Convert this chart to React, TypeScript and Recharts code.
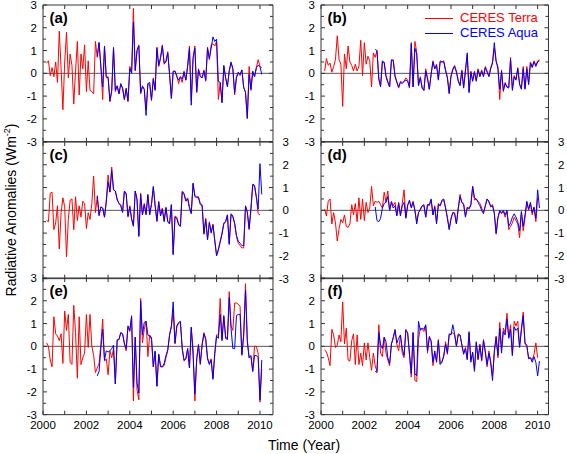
import { LineChart, Line, XAxis, YAxis, ReferenceLine } from 'recharts'

// monthly anomalies, Terra from Mar 2000, Aqua from Jul 2002 (index 28)
const TERRA_A = [
  0.45, 0.55, -0.1, 0.25, -0.15, 0.5, -0.4, 1.85, 0.2, -1.6,
  0.5, 1.8, -0.2, 0.85, 0.35, -1.35, 0.1, 1.4, -0.95, 0.85,
  0.2, 1.25, -0.8, 0.55, -0.75, -0.8, -0.9, 1.4, 0.7, 1.35,
  0.3, -1.15, 1.15, -0.2, -0.15, -1.25, -0.8, 1.15, -0.8, -0.55,
  -0.9, -0.5, -0.65, -1.15, -0.7, -1.25, 0.3, 0.05, 2.85, 0.1,
  1.0, 1.25, -0.9, -0.6, -0.7, -1.6, -0.45, -0.5, -1.2, -0.2,
  -0.7, 1.15, 0.3, 0.65, 1.25, 0.4, 0.55, 0.95, -0.05, -1.1,
  0.05, 0.1, -0.1, -0.45, -0.15, -0.4, 0.1, -0.3, 0.35, 1.2,
  -1.2, 0.7, 1.2, -0.85, 0.2, -0.1, -0.2, 0.15, -0.35, 1.15,
  0.6, 1.25, 1.3, 1.2, 1.4, -1.15, -0.4, -1.25, 0.3, -0.2,
  -0.55, 0.1, 0.45, 0.2, -0.95, -0.2, 0.0, -0.1, 0.15, -0.65,
  -0.8, -2.0, 0.3, -0.75, 0.05, -0.15, 0.25, 0.6, 0.3, 0.25,
]
const AQUA_A = [
  0.75, 1.35,
  0.3, -0.6, 1.2, -0.15, -0.2, -1.2, -0.75, 1.1, -0.75, -0.55,
  -0.9, -0.45, -0.65, -1.15, -0.65, -1.2, 0.2, 0.0, 2.25, 0.15,
  1.0, 1.2, -0.85, -0.55, -0.7, -1.85, -0.45, -0.4, -1.15, -0.25,
  -0.75, 1.1, 0.35, 0.7, 1.2, 0.45, 0.5, 0.9, -0.05, -1.1,
  0.1, 0.1, -0.15, -0.3, -0.15, -0.25, 0.05, -0.3, 0.3, 1.1,
  -1.4, 0.65, 1.1, -0.8, 0.15, -0.15, -0.2, 0.1, -0.3, 1.1,
  0.65, 1.1, 1.6, 1.4, 1.5, -0.35, -0.4, -1.3, 0.35, -0.2,
  -0.6, 0.1, 0.5, 0.2, -0.85, -0.15, 0.05, -0.05, 0.15, -0.6,
  -0.85, -1.95, -0.05, -0.7, 0.1, -0.15, 0.25, 0.35, 0.3, -0.05,
]
const TERRA_B = [
  0.1, 0.65, 0.35, 0.45, 0.05, 0.3, 0.6, 1.65, 0.6, 0.4,
  -1.45, 0.85, 0.2, 1.2, 0.5, 0.35, 0.1, 0.4, 0.1, 0.3,
  1.45, -0.1, 1.35, 0.4, 0.75, 0.55, -0.6, 0.9, 0.7, 1.0,
  -0.2, -0.55, 0.5, 0.5, -0.1, -0.35, -0.6, 0.55, 0.6, -0.1,
  -0.35, -0.65, -0.35, -0.4, -0.35, -0.2, -0.3, -0.65, 1.35, -0.6,
  1.4, 0.95, -0.5, -0.15, -0.6, -0.75, 0.2, -0.2, -0.7, 0.0,
  0.55, 0.2, 0.4, -0.25, 0.55, 0.5, 0.55, 0.15, -0.15, -0.85,
  -0.1, 0.2, 0.35, 0.1, -0.3, -0.5, 0.15, -0.6, 0.15, 0.8,
  -0.8, 0.1, -0.3, 0.1, -0.3, 0.2, -0.1, 0.15, -0.1, 0.3,
  0.1, -0.1, 0.25, 0.5, 1.1, 0.5, 0.3, -1.15, 0.15, -0.8,
  -0.4, -0.6, -0.6, 0.7, -0.7, -0.1, -0.25, 0.25, -0.45, -0.65,
  0.3, -0.65, 0.3, -0.45, 0.5, 0.3, 0.55, 0.35, 0.55, 0.6,
]
const AQUA_B = [
  1.05, 1.0,
  -0.25, -0.6, 0.55, 0.45, -0.15, -0.4, -0.6, 0.6, 0.55, -0.15,
  -0.4, -0.6, -0.4, -0.45, -0.35, -0.3, -0.35, -0.6, 1.3, -0.6,
  1.1, 0.85, -0.55, -0.2, -0.65, -0.75, 0.1, -0.25, -0.7, -0.05,
  0.5, 0.2, 0.35, -0.3, 0.5, 0.5, 0.5, 0.1, -0.2, -0.9,
  -0.15, 0.15, 0.3, 0.05, -0.35, -0.55, 0.1, -0.65, 0.1, 0.9,
  -0.85, 0.05, -0.35, 0.05, -0.35, 0.15, -0.15, 0.1, -0.15, 0.25,
  0.05, -0.15, 0.2, 0.45, 1.35, 0.55, 0.2, -0.7, 0.1, -0.75,
  -0.45, -0.6, -0.65, 0.6, -0.75, -0.15, -0.3, 0.2, -0.5, -0.7,
  0.2, -0.7, 0.2, -0.5, 0.45, 0.25, 0.5, 0.3, 0.5, 0.55,
]
const TERRA_C = [
  -0.45, -0.5, 0.75, 0.8, -0.85, -0.55, 0.2, -1.7, -0.1, 0.55,
  0.15, -2.05, -0.4, 0.45, 0.5, -0.85, 0.6, -0.45, 0.2, -0.3,
  0.4, 0.3, -0.8, -0.1, -0.4, 0.3, 1.5, -0.1, 0.6, -0.25,
  0.15, 0.1, -0.3, 0.45, 1.55, 0.8, 1.9, 0.9, 0.85, 0.45,
  0.3, 0.25, -0.05, 0.8, 0.7, -0.3, 0.2, -0.35, -0.65, 0.85,
  0.45, -1.1, 0.75, -0.2, 0.3, -0.15, 0.65, -0.15, 0.3, 1.0,
  0.2, -0.5, 0.4, -0.2, 0.1, -0.45, 0.15, -0.5, -0.55, 0.25,
  -1.9, -0.25, -0.3, -0.6, -0.7, 0.85, 0.75, 0.45, 0.55, 0.15,
  -0.1, 1.15, 0.65, 0.6, 0.6, 0.3, 0.25, -1.0, -0.35, -1.25,
  -0.5, -0.95, -0.6, -1.3, -1.95, -1.7, -1.35, -1.0, -0.55, -0.5,
  -0.2, -1.45, -0.2, -0.3, -0.6, -1.15, -1.45, -1.55, -1.65, -1.65,
  0.15, -0.1, -0.85, 0.0, 1.1, 1.05, 0.55, -0.15, -0.2,
]
const AQUA_C = [
  0.65, -0.2,
  0.15, 0.1, -0.3, 0.35, 1.25, 0.8, 1.75, 0.9, 0.85, 0.5,
  0.3, 0.2, -0.1, 0.85, 0.75, -0.25, 0.15, -0.4, -0.7, 0.85,
  0.5, -1.15, 0.7, -0.2, 0.25, -0.2, 0.7, -0.2, 0.25, 1.05,
  0.25, -0.45, 0.35, -0.25, 0.05, -0.5, 0.1, -0.5, -0.6, 0.25,
  -1.95, -0.3, -0.35, -0.65, -0.7, 0.8, 0.7, 0.4, 0.5, 0.1,
  -0.15, 1.2, 0.6, 0.55, 0.55, 0.25, 0.2, -1.05, -0.4, -1.3,
  -0.55, -1.0, -0.65, -1.35, -2.0, -1.75, -1.4, -1.05, -0.6, -0.5,
  -0.2, -1.5, -0.15, -0.25, -0.55, -1.1, -1.35, -1.45, -1.55, -1.55,
  0.2, -0.05, -0.8, 0.1, 1.15, 1.1, 0.6, 0.05, 2.05, 0.7,
]
const TERRA_D = [
  0.05, -0.25, 0.4, 0.5, -0.6, -0.1, -0.55, -1.35, -0.8, -0.4,
  -0.55, -0.2, -0.7, -0.75, -0.6, 0.25, -0.2, 0.3, -0.5, 0.55,
  -0.4, 0.5, -0.45, 0.35, -0.1, 0.1, 1.05, 0.2, 0.4, 0.35,
  0.4, 0.25, 0.1, 0.8, 0.35, 0.85, 0.0, 0.4, 0.2, 0.35,
  -0.2, 0.35, -0.2, 0.3, 0.9, -0.3, 0.25, 0.4, 0.15, 0.4,
  0.0, -0.5, -0.1, 0.0, 0.2, 0.2, -0.3, 0.25, 0.2, 0.45,
  -0.2, 0.2, -0.55, 0.3, 0.2, 0.4, 0.45, 0.1, -0.3, -0.8,
  -0.35, -0.1, -0.1, -0.6, 0.1, 0.7, 0.35, 0.3, -0.25, 0.15,
  0.05, 0.2, 1.05, 0.45, 0.5, 0.4, 0.3, 0.1, -0.1, 0.2,
  0.5, 0.35, 0.2, 0.25, -0.1, -1.05, -0.35, -0.05, -0.15, -0.05,
  -0.3, -0.05, -0.85, -0.7, -0.55, -0.3, -0.45, -0.6, -1.2, -0.1,
  -0.9, -0.35, 0.35, 0.0, 0.3, -0.2, 0.1, -0.5, 0.55,
]
const AQUA_D = [
  0.15, -0.45,
  -0.5, -0.35, 0.1, 0.3, 0.35, 0.6, 0.0, 0.35, 0.1, 0.2,
  -0.25, 0.3, -0.25, 0.2, 0.35, -0.35, 0.2, 0.45, 0.1, 0.35,
  0.0, -0.6, -0.1, 0.05, 0.2, 0.25, -0.3, 0.25, 0.25, 0.5,
  -0.2, 0.15, -0.6, 0.25, 0.2, 0.45, 0.5, 0.1, -0.35, -0.85,
  -0.4, -0.1, -0.15, -0.6, 0.05, 0.6, 0.35, 0.25, -0.3, 0.1,
  0.1, 0.25, 1.05, 0.55, 0.5, 0.35, 0.2, 0.0, -0.15, 0.2,
  0.5, 0.4, 0.15, 0.2, -0.15, -1.0, -0.3, 0.0, -0.1, 0.0,
  -0.2, 0.0, -0.7, -0.55, -0.3, -0.15, -0.3, -0.5, -0.9, -0.05,
  -0.7, -0.2, 0.4, 0.05, 0.35, -0.1, 0.15, -0.35, 0.9, 0.1,
]
const TERRA_E = [
  0.15, 0.0, -0.6, -0.9, 1.3, 0.55, 0.45, 0.25, 0.55, -0.75,
  1.55, 0.7, 1.4, -0.7, -0.8, 1.8, 0.6, -1.4, 1.3, -0.8,
  -0.5, -0.3, 1.4, -0.05, 1.4, 0.0, -0.4, -1.15, -0.95, -0.75,
  0.1, 1.2, -0.65, -0.55, -1.25, -0.2, -0.5, -0.1, -1.65, 0.3,
  0.3, 0.6, 0.55, 0.1, -0.2, 0.85, 0.65, 1.35, -2.4, 0.4,
  -1.9, -2.35, 2.1, 0.15, 0.75, 1.1, -0.45, 0.5, 0.3, -0.9,
  -0.25, -1.75, -0.35, -0.85, -0.9, -0.85, -0.5, -0.2, 0.5, 0.85,
  1.55, 0.1, 0.85, 1.0, 1.05, -0.1, -0.65, -0.55, -0.1, -0.95,
  0.8, -0.1, -2.4, -0.5, 0.1, -0.8, 0.1, 0.6, 0.35, -0.5,
  -0.75, -0.55, -1.4, -0.35, 0.5, 0.5, 2.1, 0.3, 1.3, 0.45,
  0.3, 2.4, 0.9, 0.7, 1.9, 1.9, 1.85, 1.75, -0.4, 0.55,
  2.75, 0.3, -0.5, -0.45, -1.1, 0.0, 0.0, -0.3, -2.45, -1.0,
]
const AQUA_E = [
  -1.3, -1.1,
  -0.1, 0.75, -0.6, -0.2, -0.25, -0.2, -0.1, 0.05, -1.65, 0.25,
  0.3, 0.6, 0.55, 0.15, -0.1, 0.9, 0.7, 1.3, -1.8, 0.4,
  -1.6, -2.05, 2.0, 0.5, 1.05, 1.1, 0.5, 0.45, 0.4, -0.9,
  -0.2, -1.75, -0.35, -0.9, -0.9, -0.75, -0.4, -0.15, 0.5, 0.9,
  1.95, 0.15, 0.9, 1.05, 1.1, -0.1, -0.6, -0.55, -0.1, -0.95,
  0.85, -0.4, -2.1, -0.6, 0.05, -0.75, 0.05, 0.55, 0.3, -0.55,
  -0.8, -0.6, -1.45, -0.3, 0.45, 0.35, 1.4, 0.25, 1.35, 0.35,
  0.3, 2.15, 0.8, -0.1, -0.1, 1.35, 1.4, 1.4, -0.35, 0.45,
  2.45, 0.2, -0.5, -0.4, -1.1, -0.4, -0.4, -0.5, -2.35, -0.6,
]
const TERRA_F = [
  -0.15, -0.25, -0.5, -0.85, 0.75, 0.5, -0.05, 0.05, 0.5, 0.2,
  1.95, 0.1, 0.8, -0.6, -0.65, 0.25, 0.55, -0.8, 0.5, -0.8,
  -0.3, -0.85, 0.15, -0.6, 0.15, -0.5, -1.05, -0.3, -0.85, -1.1,
  0.95, -0.3, -0.45, 0.4, -0.3, -0.6, -0.85, 0.1, 0.35, 0.75,
  0.1, -0.2, 0.5, -0.3, -0.5, 0.75, 0.55, -0.4, -1.35, 0.6,
  -1.5, -1.55, 0.3, 0.8, 0.75, 0.65, 0.9, -0.3, 0.45, 0.2,
  -0.85, -0.3, -0.65, 0.3, -0.75, -0.65, -0.45, 0.2, -0.35, 0.5,
  0.55, 0.6, 0.5, 0.0, 0.55, 0.5, 0.1, -0.3, -0.05, -0.6,
  0.65, -0.6, -0.3, -1.0, 0.15, -0.6, 0.1, -0.65, 0.3, -0.3,
  -0.9, -0.2, -0.65, -1.3, -0.3, 0.45, -0.5, 1.05, -0.1, 0.8,
  0.6, 1.45, 0.4, 0.95, -0.4, 1.1, 0.9, 1.1, 0.0, 0.8,
  1.5, 0.1, 0.0, -0.5, -0.5, -0.6, -0.35, 0.15, -0.5,
]
const AQUA_F = [
  -1.1, -1.15,
  0.6, 0.05, -0.1, 0.4, 0.2, -0.5, -0.75, 0.1, 0.4, 0.7,
  0.15, 0.35, 0.5, -0.1, -0.4, 0.7, 0.6, -0.3, -1.2, 0.6,
  -1.2, -1.3, 1.1, 0.7, 0.8, 0.75, 0.95, -0.2, 0.4, 0.25,
  -0.7, -0.2, -0.7, 0.25, -0.8, -0.7, -0.4, 0.1, -0.3, 0.55,
  0.5, 0.95, 0.55, 0.0, 0.5, 0.5, 0.05, -0.35, -0.1, -0.55,
  0.6, -0.7, -0.25, -1.1, 0.2, -0.55, 0.05, -0.6, 0.25, -0.2,
  -0.8, -0.3, -0.75, -1.5, -0.2, 0.4, -0.4, 0.8, -0.3, 0.65,
  0.5, 1.2, 0.35, 0.75, -0.4, 0.85, 0.7, 0.8, -0.05, 0.7,
  1.35, 0.15, 0.05, -0.55, -0.5, -0.7, -0.45, -0.7, -1.3, -0.65,
]

const YEARS = [2000, 2001, 2002, 2003, 2004, 2005, 2006, 2007, 2008, 2009, 2010]
const Y_TICKS = [-3, -2.5, -2, -1.5, -1, -0.5, 0, 0.5, 1, 1.5, 2, 2.5, 3]

const T0 = 2000 + 2 / 12
const AQUA_START = 28
const FONT = '"Liberation Sans", Arial, sans-serif'
const AX = '#333'
const TERRA_COLOR = '#ff0000'
const AQUA_COLOR = '#0000ff'

const LEFT = { x: 42.5, w: 230, domain: [2000, 2010.6] }
const RIGHT = { x: 320.5, w: 227.5, domain: [2000, 2010.5] }
const ROW_TOPS = [5, 141.67, 278.33]
const PH = 136.67
const M = { top: 10, right: 40, bottom: 30, left: 40 }
const THIN = 0.01 // axes need a positive size to be drawn

const buildRows = (terra: number[], aqua: number[]) => {
  const n = Math.max(terra.length, AQUA_START + aqua.length)
  return Array.from({ length: n }, (_, i) => ({
    t: T0 + i / 12,
    terra: terra[i],
    aqua: i >= AQUA_START ? aqua[i - AQUA_START] : undefined,
  }))
}

const PANELS = [
  { key: 'a', col: LEFT, row: 0, terra: TERRA_A, aqua: AQUA_A, ySide: 'left', xLabels: false },
  { key: 'b', col: RIGHT, row: 0, terra: TERRA_B, aqua: AQUA_B, ySide: 'left', xLabels: false },
  { key: 'c', col: LEFT, row: 1, terra: TERRA_C, aqua: AQUA_C, ySide: 'right', xLabels: false },
  { key: 'd', col: RIGHT, row: 1, terra: TERRA_D, aqua: AQUA_D, ySide: 'right', xLabels: false },
  { key: 'e', col: LEFT, row: 2, terra: TERRA_E, aqua: AQUA_E, ySide: 'left', xLabels: true },
  { key: 'f', col: RIGHT, row: 2, terra: TERRA_F, aqua: AQUA_F, ySide: 'left', xLabels: true },
]

const XTick = ({ x, y, payload, dir, showLabel }: any) => {
  const v = payload.value
  return (
    <g>
      <line x1={x} x2={x} y1={y} y2={y + dir * 4} stroke={AX} strokeWidth={1} />
      {showLabel && v % 2 === 0 && (
        <text x={x} y={y + 14.5} textAnchor="middle" fontSize={11.5} fontFamily={FONT} fill="#000">{v}</text>
      )}
    </g>
  )
}

const YTick = ({ x, y, payload, dir, showLabel }: any) => {
  const v = payload.value
  const major = Number.isInteger(v)
  return (
    <g>
      <line x1={x} x2={x + dir * (major ? 4 : 3)} y1={y} y2={y} stroke={AX} strokeWidth={1} />
      {showLabel && major && (
        dir > 0
          ? <text x={x - 6} y={y + 4} textAnchor="end" fontSize={11.5} fontFamily={FONT} fill="#000">{v}</text>
          : <text x={x + 16} y={y + 4} textAnchor="end" fontSize={11.5} fontFamily={FONT} fill="#000">{v}</text>
      )}
    </g>
  )
}

function Panel({ p }: { p: any }) {
  const rows = buildRows(p.terra, p.aqua)
  const top = ROW_TOPS[p.row]
  return (
    <div style={{ position: 'absolute', left: p.col.x - M.left, top: top - M.top }}>
      <LineChart width={p.col.w + M.left + M.right} height={PH + M.top + M.bottom} data={rows} margin={M}>
        <XAxis dataKey="t" type="number" domain={p.col.domain} ticks={YEARS} interval={0}
          height={THIN} tickSize={0} tickMargin={0} tickLine={false} axisLine={{ stroke: AX }}
          tick={(t: any) => <XTick {...t} dir={-1} showLabel={p.xLabels} />} />
        <XAxis xAxisId="top" dataKey="t" orientation="top" type="number" domain={p.col.domain} ticks={YEARS} interval={0}
          height={THIN} tickSize={0} tickMargin={0} tickLine={false} axisLine={{ stroke: AX }}
          tick={(t: any) => <XTick {...t} dir={1} showLabel={false} />} />
        <YAxis type="number" domain={[-3, 3]} ticks={Y_TICKS} interval={0}
          width={THIN} tickSize={0} tickMargin={0} tickLine={false} axisLine={{ stroke: AX }}
          tick={(t: any) => <YTick {...t} dir={1} showLabel={p.ySide === 'left'} />} />
        <YAxis yAxisId="right" orientation="right" type="number" domain={[-3, 3]} ticks={Y_TICKS} interval={0}
          width={THIN} tickSize={0} tickMargin={0} tickLine={false} axisLine={{ stroke: AX }}
          tick={(t: any) => <YTick {...t} dir={-1} showLabel={p.ySide === 'right'} />} />
        <ReferenceLine y={0} stroke="#555" strokeWidth={1} />
        {/* invisible series so the top / right axes get their scales and ticks */}
        <Line xAxisId="top" yAxisId="right" dataKey="terra" stroke="none" dot={false} activeDot={false} isAnimationActive={false} />
        <Line dataKey="terra" type="linear" stroke={TERRA_COLOR} strokeWidth={1} dot={false} isAnimationActive={false} />
        <Line dataKey="aqua" type="linear" stroke={AQUA_COLOR} strokeWidth={1} dot={false} isAnimationActive={false} />
      </LineChart>
      <div style={{
        position: 'absolute', left: M.left + 7, top: M.top + 5, fontFamily: FONT,
        fontWeight: 'bold', fontSize: 15, lineHeight: '16px',
      }}>({p.key})</div>
    </div>
  )
}

export default function App() {
  return (
    <div style={{ position: 'absolute', left: 0, top: 0, width: 567, height: 454, background: '#fff', fontFamily: FONT }}>
      {PANELS.map(p => <Panel key={p.key} p={p} />)}

      {/* legend in panel (b) */}
      <div style={{ position: 'absolute', left: 425, top: 18, width: 28, height: 1, background: TERRA_COLOR }} />
      <div style={{ position: 'absolute', left: 460, top: 10, fontSize: 13, lineHeight: '16px', color: TERRA_COLOR, whiteSpace: 'nowrap' }}>CERES Terra</div>
      <div style={{ position: 'absolute', left: 425, top: 33, width: 28, height: 1, background: AQUA_COLOR }} />
      <div style={{ position: 'absolute', left: 460, top: 25, fontSize: 13, lineHeight: '16px', color: AQUA_COLOR, whiteSpace: 'nowrap' }}>CERES Aqua</div>

      <div style={{
        position: 'absolute', left: 9, top: 210, transform: 'translate(-50%, -50%) rotate(-90deg)',
        fontSize: 14, whiteSpace: 'nowrap', lineHeight: '16px',
      }}>Radiative Anomalies (Wm<sup style={{ fontSize: 9 }}>-2</sup>)</div>
      <div style={{
        position: 'absolute', left: 304, top: 445, transform: 'translate(-50%, -50%)',
        fontSize: 14, whiteSpace: 'nowrap', lineHeight: '16px',
      }}>Time (Year)</div>
    </div>
  )
}
